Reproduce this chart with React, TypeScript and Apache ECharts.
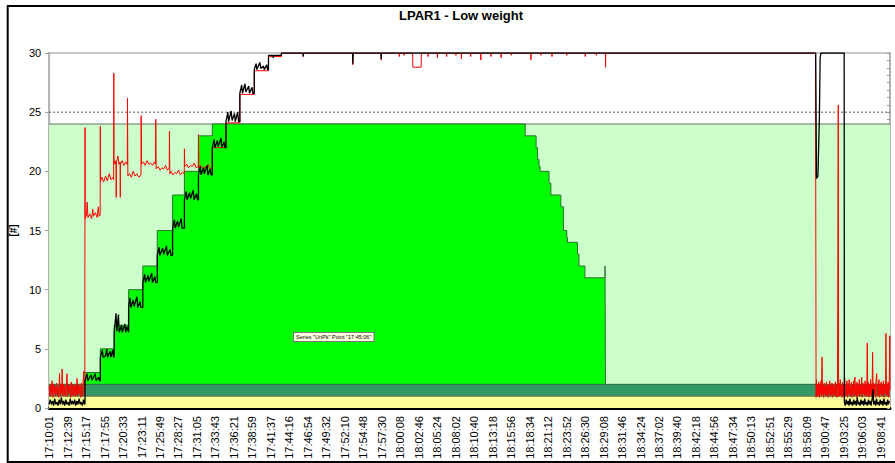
import React, { useEffect, useRef } from "react";
import * as echarts from "echarts";

// x values are positions on the category grid of time labels (0 = first label)
const timeLabels = [
  "17:10:01", "17:12:39", "17:15:17", "17:17:55", "17:20:33", "17:23:11", "17:25:49", "17:28:27",
  "17:31:05", "17:33:43", "17:36:21", "17:38:59", "17:41:37", "17:44:16", "17:46:54", "17:49:32",
  "17:52:10", "17:54:48", "17:57:30", "18:00:08", "18:02:46", "18:05:24", "18:08:02", "18:10:40",
  "18:13:18", "18:15:56", "18:18:34", "18:21:12", "18:23:52", "18:26:30", "18:29:08", "18:31:46",
  "18:34:24", "18:37:02", "18:39:40", "18:42:18", "18:44:56", "18:47:34", "18:50:13", "18:52:51",
  "18:55:29", "18:58:09", "19:00:47", "19:03:25", "19:06:03", "19:08:41",
];
const xExtent = [0, 45.5];
const yTicks = [0, 5, 10, 15, 20, 25, 30];

const maxLevel = 24; // light green limit
const warnLevel = 25; // dotted line
const tealBand = 2;
const yellowBand = 1;

// UnPk (green stepped area)
const unpk: [number, number][] = [
  [1.94, 3], [2.77, 5], [3.52, 7], [4.3, 10], [5.07, 12], [5.85, 15], [6.68, 18], [7.32, 20],
  [8.08, 23], [8.83, 24], [25.76, 23], [26.35, 22], [26.43, 21], [26.51, 20.4], [26.57, 20],
  [27.05, 19], [27.15, 18], [27.69, 17], [27.83, 15], [28.01, 14.4], [28.05, 14], [28.59, 13],
  [28.67, 12], [28.99, 11], [30.08, 12], [30.11, 0],
];

// black series
const blackStart: [number, number][] = [
  [0, 0.3], [0.06, 0.7], [0.12, 0.3], [0.18, 0.6], [0.24, 0.2], [0.3, 0.8], [0.36, 0.3], [0.42, 0.5],
  [0.48, 0.2], [0.54, 0.7], [0.6, 0.3], [0.66, 0.9], [0.72, 0.3], [0.78, 0.6], [0.84, 0.2], [0.9, 0.7],
  [0.96, 0.3], [1.02, 0.5], [1.08, 0.2], [1.14, 0.8], [1.2, 0.3], [1.26, 0.6], [1.32, 0.3], [1.38, 0.7],
  [1.44, 0.2], [1.5, 0.6], [1.56, 0.3], [1.62, 0.8], [1.68, 0.3], [1.74, 0.5], [1.8, 0.2], [1.86, 0.7],
  [1.92, 0.3], [1.94, 0.4],
];
const blackRise: [number, number][] = [
  [1.94, 2.3], [2.05, 2.9], [2.09, 2.3], [2.28, 2.8], [2.32, 2.35], [2.5, 2.9], [2.54, 2.3], [2.68, 2.6], [2.72, 2.3], [2.77, 2.3],
  [2.77, 4.3], [2.88, 4.9], [2.92, 4.3], [3.05, 4.4], [3.12, 5.0], [3.16, 4.3], [3.3, 4.8], [3.34, 4.3], [3.45, 4.9], [3.48, 4.35], [3.52, 4.3],
  [3.52, 6.4], [3.62, 8.0], [3.66, 6.5], [3.75, 7.9], [3.79, 6.4], [3.92, 7.0], [3.96, 6.4], [4.1, 7.1], [4.14, 6.4], [4.22, 6.9], [4.3, 6.4],
  [4.3, 8.5], [4.38, 9.3], [4.42, 8.5], [4.55, 9.1], [4.6, 8.6], [4.75, 9.4], [4.79, 8.5], [4.92, 9.0], [4.96, 8.5], [5.07, 8.5],
  [5.07, 10.6], [5.17, 11.3], [5.21, 10.6], [5.35, 11.2], [5.4, 10.7], [5.55, 11.4], [5.59, 10.6], [5.72, 11.1], [5.76, 10.6], [5.85, 10.6],
  [5.85, 12.9], [5.95, 13.6], [5.99, 12.9], [6.15, 13.5], [6.2, 13.0], [6.35, 13.7], [6.39, 12.9], [6.55, 13.4], [6.59, 12.9], [6.68, 12.9],
  [6.68, 15.2], [6.78, 15.9], [6.82, 15.2], [6.95, 15.8], [7.0, 15.3], [7.15, 16.0], [7.19, 15.2], [7.32, 15.2],
  [7.32, 17.6], [7.42, 18.3], [7.46, 17.6], [7.6, 18.2], [7.65, 17.7], [7.8, 18.4], [7.84, 17.6], [7.98, 18.1], [8.02, 17.6], [8.08, 17.6],
  [8.08, 19.7], [8.18, 20.4], [8.22, 19.7], [8.36, 20.3], [8.4, 19.8], [8.55, 20.5], [8.59, 19.7], [8.72, 20.2], [8.76, 19.7], [8.83, 19.7],
  [8.83, 22.0], [8.93, 22.7], [8.97, 22.0], [9.1, 22.6], [9.15, 22.1], [9.3, 22.8], [9.34, 22.0], [9.47, 22.5], [9.51, 22.0], [9.57, 22.0],
  [9.57, 24.2], [9.67, 25.0], [9.71, 24.2], [9.85, 25.1], [9.9, 24.3], [10.03, 24.9], [10.07, 24.2], [10.2, 25.0], [10.25, 24.2], [10.32, 24.2],
  [10.32, 26.6], [10.42, 27.3], [10.46, 26.6], [10.6, 27.4], [10.64, 26.7], [10.8, 27.2], [10.84, 26.6], [10.98, 27.1], [11.02, 26.6], [11.1, 26.6],
  [11.1, 28.6], [11.2, 29.1], [11.24, 28.6], [11.4, 29.2], [11.45, 28.7], [11.6, 28.9], [11.64, 28.6], [11.78, 29.0], [11.82, 28.6], [11.87, 28.6],
  [11.87, 29.8], [12.1, 29.8], [12.13, 29.6], [12.16, 29.8], [12.57, 29.8],
];
const blackTop: [number, number][] = [
  [12.57, 30], [13.74, 30], [13.75, 29.7], [13.76, 30], [16.42, 30], [16.43, 29.1], [16.45, 30],
  [17.96, 30], [17.97, 29.5], [17.98, 30], [41.48, 30], [41.52, 19.4], [41.6, 19.6], [41.68, 24.6],
  [41.72, 29.6], [41.76, 30], [43.02, 30],
];
const blackEnd: [number, number][] = [
  [43.03, 0.5], [43.08, 0.2], [43.13, 0.7], [43.18, 0.3], [43.23, 0.6], [43.28, 0.2], [43.33, 0.8], [43.38, 0.3],
  [43.43, 0.5], [43.48, 0.2], [43.53, 0.7], [43.58, 0.3], [43.63, 0.6], [43.68, 0.2], [43.73, 0.9], [43.78, 0.3],
  [43.83, 0.5], [43.88, 0.2], [43.93, 0.7], [43.98, 0.3], [44.03, 0.6], [44.08, 0.2], [44.13, 0.8], [44.18, 0.3],
  [44.23, 0.5], [44.28, 0.2], [44.33, 0.7], [44.38, 0.3], [44.43, 0.6], [44.48, 0.2], [44.53, 0.7], [44.58, 1.6],
  [44.62, 0.3], [44.67, 0.6], [44.72, 0.2], [44.77, 0.8], [44.82, 0.3], [44.87, 0.5], [44.92, 0.2], [44.97, 0.7],
  [45.02, 0.3], [45.07, 0.6], [45.12, 0.2], [45.17, 0.8], [45.22, 0.3], [45.27, 0.5], [45.32, 0.2], [45.37, 0.7],
  [45.42, 0.3], [45.47, 0.6],
];

// red series
const redStart: [number, number][] = [
  [0, 1.9], [0.04, 1.0], [0.08, 2.0], [0.12, 1.1], [0.16, 2.3], [0.2, 0.9], [0.24, 2.0], [0.28, 1.2],
  [0.32, 1.9], [0.36, 1.0], [0.4, 2.1], [0.44, 1.1], [0.48, 1.8], [0.52, 0.9], [0.56, 2.9], [0.6, 1.0],
  [0.64, 2.0], [0.68, 1.2], [0.7, 3.3], [0.74, 1.0], [0.78, 2.0], [0.82, 1.1], [0.86, 1.9], [0.9, 1.0],
  [0.94, 2.1], [0.97, 2.9], [1.0, 1.0], [1.04, 2.0], [1.08, 1.2], [1.12, 1.9], [1.16, 0.9], [1.2, 2.2],
  [1.24, 1.0], [1.28, 2.0], [1.32, 1.1], [1.36, 1.9], [1.4, 1.0], [1.44, 2.0], [1.48, 1.1], [1.51, 2.5],
  [1.55, 1.0], [1.59, 2.0], [1.63, 1.2], [1.67, 1.9], [1.71, 0.9], [1.75, 2.1], [1.79, 1.0], [1.83, 2.0],
  [1.87, 3.1], [1.9, 1.1], [1.93, 1.8],
];
const redRise: [number, number][] = [
  [1.94, 23.7], [1.95, 16.0], [2.02, 16.3], [2.06, 17.4], [2.1, 16.1], [2.2, 16.4], [2.3, 16.0], [2.36, 16.8], [2.4, 16.2], [2.5, 16.5], [2.6, 16.1], [2.66, 17.0], [2.7, 16.2], [2.76, 16.3],
  [2.77, 23.8], [2.78, 19.2], [2.85, 19.5], [2.95, 19.1], [3.05, 19.6], [3.15, 19.2], [3.25, 19.8], [3.35, 19.3], [3.45, 19.5], [3.49, 19.3],
  [3.5, 28.3], [3.51, 20.6], [3.58, 20.9], [3.62, 20.5], [3.63, 17.8], [3.64, 20.7], [3.72, 21.3], [3.78, 20.6], [3.84, 20.8], [3.85, 17.8], [3.86, 20.6], [3.95, 20.9], [4.05, 20.5], [4.15, 20.8], [4.23, 20.6],
  [4.24, 26.2], [4.26, 19.6], [4.35, 19.8], [4.45, 19.5], [4.55, 20.0], [4.65, 19.6], [4.75, 19.8], [4.85, 19.5], [4.97, 19.7],
  [4.98, 24.7], [5.0, 20.6], [5.1, 20.8], [5.2, 20.5], [5.3, 20.9], [5.4, 20.6], [5.5, 20.7], [5.6, 20.5], [5.7, 20.8], [5.76, 20.6],
  [5.77, 24.4], [5.79, 20.2], [5.9, 20.4], [6.0, 20.1], [6.1, 20.3], [6.2, 20.2], [6.3, 20.5], [6.4, 20.1], [6.5, 20.3],
  [6.51, 23.4], [6.53, 19.8], [6.6, 20.0], [6.7, 19.7], [6.8, 19.9], [6.9, 19.8], [7.0, 20.1], [7.1, 19.7], [7.2, 19.9], [7.31, 19.8],
  [7.32, 21.9], [7.34, 20.4], [7.45, 20.6], [7.55, 20.3], [7.65, 20.5], [7.75, 20.4], [7.85, 20.7], [7.95, 20.3], [8.07, 20.4],
  [8.08, 23.1], [8.1, 20.3], [8.2, 20.5], [8.3, 20.2], [8.4, 20.4], [8.5, 20.3], [8.6, 20.6], [8.7, 20.2], [8.82, 20.3],
  [8.83, 22.0], [9.57, 22.0], [9.57, 24.1], [10.32, 24.1], [10.32, 26.5], [11.1, 26.5], [11.1, 28.5], [11.87, 28.5], [11.87, 29.7], [12.57, 29.7],
];
const redTop: [number, number][] = [
  [12.57, 30], [13.74, 30], [13.75, 29.7], [13.76, 30], [16.42, 30], [16.43, 29.0], [16.45, 30], [17.96, 30], [17.97, 29.4], [17.98, 30],
  [18.94, 30], [18.95, 29.7], [18.96, 30], [19.2, 30], [19.21, 29.8], [19.22, 30], [19.67, 30], [19.68, 28.8], [20.13, 28.8], [20.14, 30],
  [20.5, 30], [20.51, 29.7], [20.52, 30], [21.0, 30], [21.01, 29.6], [21.02, 30], [21.5, 30], [21.51, 29.7], [21.52, 30],
  [22.0, 30], [22.01, 29.8], [22.02, 30], [22.3, 30], [22.31, 29.5], [22.32, 30], [22.8, 30], [22.81, 29.7], [22.82, 30],
  [23.35, 30], [23.36, 29.4], [23.37, 30], [23.9, 30], [23.91, 29.7], [23.92, 30], [24.45, 30], [24.46, 29.6], [24.47, 30],
  [25.0, 30], [25.01, 29.8], [25.02, 30], [26.06, 30], [26.07, 29.4], [26.08, 30], [26.6, 30], [26.61, 29.8], [26.62, 30],
  [27.2, 30], [27.21, 29.7], [27.22, 30], [28.0, 30], [28.01, 29.8], [28.02, 30], [29.0, 30], [29.01, 29.7], [29.02, 30],
  [29.6, 30], [29.61, 29.8], [29.62, 30], [30.1, 30], [30.11, 28.8], [30.12, 30], [41.47, 30],
];
const redEnd: [number, number][] = [
  [41.5, 0.9], [41.52, 2.4], [41.55, 1.0], [41.58, 2.0], [41.61, 1.1], [41.64, 2.2], [41.67, 0.9], [41.7, 1.9], [41.73, 1.2],
  [41.76, 2.3], [41.79, 1.0], [41.82, 4.3], [41.85, 1.1], [41.88, 2.0], [41.91, 0.9], [41.94, 2.1], [41.97, 1.2], [42.0, 1.8],
  [42.03, 1.0], [42.06, 2.2], [42.09, 1.1], [42.12, 1.9], [42.15, 0.9], [42.18, 2.0], [42.21, 1.2], [42.24, 2.3], [42.27, 1.0],
  [42.3, 1.9], [42.33, 1.1], [42.36, 2.1], [42.39, 0.9], [42.42, 2.0], [42.45, 1.2], [42.48, 1.8], [42.51, 1.0], [42.54, 2.2],
  [42.57, 1.1], [42.6, 2.0], [42.63, 0.9], [42.66, 2.4], [42.7, 25.6], [42.72, 1.0], [42.75, 2.1], [42.78, 1.0], [42.81, 2.4],
  [42.84, 1.1], [42.87, 1.9], [42.9, 0.9], [42.93, 2.2], [42.96, 1.0], [42.99, 2.0], [43.02, 1.2], [43.05, 2.5], [43.08, 1.0],
  [43.11, 1.9], [43.14, 1.1], [43.17, 2.3], [43.2, 0.9], [43.23, 2.0], [43.26, 1.2], [43.29, 2.4], [43.32, 1.0], [43.35, 1.8],
  [43.38, 1.1], [43.41, 2.2], [43.44, 0.9], [43.47, 2.0], [43.5, 1.2], [43.53, 2.3], [43.56, 1.0], [43.6, 2.6], [43.63, 1.1],
  [43.66, 1.9], [43.69, 0.9], [43.72, 2.2], [43.75, 1.0], [43.78, 2.0], [43.81, 1.2], [43.84, 2.4], [43.87, 1.0], [43.9, 1.9],
  [43.93, 1.1], [43.97, 2.6], [44.0, 0.9], [44.03, 2.1], [44.06, 1.2], [44.09, 2.0], [44.12, 1.0], [44.15, 2.3], [44.18, 1.1],
  [44.21, 1.9], [44.24, 1.0], [44.27, 5.5], [44.3, 1.1], [44.33, 2.2], [44.36, 0.9], [44.39, 2.0], [44.42, 1.2], [44.45, 2.4],
  [44.48, 1.0], [44.51, 1.9], [44.53, 1.1], [44.56, 4.7], [44.59, 1.0], [44.62, 2.1], [44.65, 1.2], [44.68, 2.0], [44.71, 0.9],
  [44.74, 2.3], [44.78, 2.9], [44.81, 1.0], [44.84, 2.0], [44.87, 1.1], [44.9, 2.4], [44.93, 0.9], [44.96, 2.0], [44.99, 1.2],
  [45.02, 2.2], [45.05, 1.0], [45.08, 1.9], [45.11, 1.1], [45.14, 2.3], [45.17, 0.9], [45.2, 2.0], [45.23, 1.2], [45.26, 2.4],
  [45.28, 6.3], [45.31, 1.0], [45.34, 2.0], [45.37, 1.1], [45.4, 2.2], [45.43, 0.9], [45.46, 2.1], [45.49, 6.1], [45.5, 1.5],
];

const FONT = "Liberation Sans, Arial, sans-serif";

export default function App() {
  const ref = useRef<HTMLDivElement>(null);
  useEffect(() => {
    if (!ref.current) return;
    const chart = echarts.init(ref.current, null, { renderer: "svg" });
    const flat = (v: number) => xExtent.map((x) => [x, v]);
    const lineBase = { type: "line", symbol: "none", showSymbol: false, silent: true, animation: false };
    chart.setOption({
      animation: false,
      backgroundColor: "#ffffff",
      textStyle: { fontFamily: FONT },
      grid: {
        left: 47, right: 5, top: 53, bottom: 55,
        show: true, borderColor: "#c8c8c8", borderWidth: 2, backgroundColor: "transparent",
      },
      xAxis: {
        type: "value",
        min: xExtent[0],
        max: xExtent[1],
        interval: 1,
        axisLine: { show: true, onZero: false, lineStyle: { color: "#000", width: 3 } },
        axisTick: { show: false },
        splitLine: { show: false },
        axisLabel: {
          rotate: 90,
          fontSize: 11,
          color: "#000",
          fontFamily: FONT,
          margin: 8,
          showMaxLabel: false,
          formatter: (v: number) => {
            const r = Math.round(v);
            return Math.abs(v - r) < 1e-6 && timeLabels[r] ? timeLabels[r] : "";
          },
        },
      },
      yAxis: [
        {
          type: "value",
          min: yTicks[0],
          max: yTicks[yTicks.length - 1],
          interval: 5,
          name: "[#]",
          nameLocation: "middle",
          nameGap: 27,
          nameTextStyle: { fontWeight: "bold", fontSize: 10, color: "#000", fontFamily: FONT },
          axisLine: { show: true, lineStyle: { color: "#b4b4b4", width: 2 } },
          axisTick: { show: true, length: 4, lineStyle: { color: "#a0a0a0" } },
          axisLabel: { fontSize: 11, color: "#000", margin: 8, fontFamily: FONT },
          splitLine: { show: false },
        },
        {
          type: "value",
          position: "right",
          min: 0,
          max: 48,
          interval: 1,
          axisLine: { show: true, lineStyle: { color: "#b4b4b4", width: 2 } },
          axisTick: { show: true, inside: true, length: 3, lineStyle: { color: "#999" } },
          axisLabel: { show: false },
          splitLine: { show: false },
        },
      ],
      graphic: [
        {
          type: "rect",
          shape: { x: 7.7, y: 6, width: 900, height: 456 },
          style: { fill: "none", stroke: "#000", lineWidth: 2 },
          silent: true,
          z: 100,
        },
        {
          type: "text",
          x: 461,
          y: 15,
          style: {
            text: "LPAR1 - Low weight",
            fontSize: 13,
            fontWeight: "bold",
            fontFamily: FONT,
            fill: "#000",
            align: "center",
            verticalAlign: "middle",
          },
          z: 100,
        },
        {
          type: "text",
          x: 294,
          y: 333,
          style: {
            text: 'Series "UnPk" Point "17:45:06"',
            fontSize: 5.5,
            fontFamily: FONT,
            fill: "#000",
            backgroundColor: "#FFFFE1",
            borderColor: "#777",
            borderWidth: 1,
            padding: [1, 2, 1, 2],
          },
          z: 100,
        },
      ],
      series: [
        {
          ...lineBase,
          name: "Max",
          data: flat(maxLevel),
          lineStyle: { color: "#607060", width: 1 },
          areaStyle: { color: "#CCFFCC", opacity: 1 },
          z: 1,
        },
        {
          ...lineBase,
          name: "Warn",
          data: flat(warnLevel),
          lineStyle: { color: "#555", width: 1, type: [2, 2] },
          z: 1,
        },
        {
          ...lineBase,
          name: "UnPk",
          step: "end",
          data: unpk,
          lineStyle: { color: "#2f6f2f", width: 1 },
          areaStyle: { color: "#00FF00", opacity: 1 },
          z: 2,
        },
        {
          ...lineBase,
          name: "Teal",
          data: flat(tealBand),
          lineStyle: { color: "#2a6a45", width: 1 },
          areaStyle: { color: "#339966", opacity: 1 },
          z: 3,
        },
        {
          ...lineBase,
          name: "Yellow",
          data: flat(yellowBand),
          lineStyle: { color: "#6f6a45", width: 1 },
          areaStyle: { color: "#FFFF99", opacity: 1 },
          z: 4,
        },
        {
          ...lineBase,
          name: "Red",
          data: [...redStart, ...redRise, ...redTop, ...redEnd],
          lineStyle: { color: "#FF0000", width: 1 },
          z: 5,
        },
        {
          ...lineBase,
          name: "Black",
          data: [...blackStart, ...blackRise, ...blackTop, ...blackEnd],
          lineStyle: { color: "#000000", width: 1.3 },
          z: 6,
        },
      ],
    });
    return () => chart.dispose();
  }, []);
  return (
    <div
      ref={ref}
      style={{ position: "absolute", left: 0, top: 0, width: 895, height: 463, background: "#fff" }}
    />
  );
}
